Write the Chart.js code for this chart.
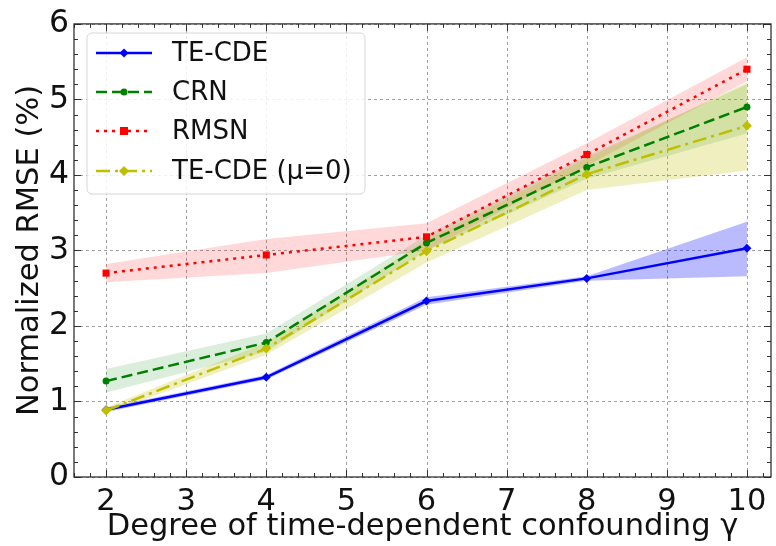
<!DOCTYPE html>
<html lang="en">
<head>
    <meta charset="UTF-8">
    <title>Normalized RMSE vs confounding</title>
    <script src="https://cdn.jsdelivr.net/npm/chart.js"></script>
    <style>
        html, body {
            margin: 0;
            padding: 0;
            background: #ffffff;
        }
        #wrap {
            width: 776px;
            height: 546px;
        }
    </style>
</head>
<body>
    <div id="wrap"><canvas id="rmseChart" width="776" height="546"></canvas></div>

    <script>
        // values
        const gammas = [2, 4, 6, 8, 10];
        const xTicks = [2, 3, 4, 5, 6, 7, 8, 9, 10];
        const yTicks = [0, 1, 2, 3, 4, 5, 6];

        const teCde = [0.89, 1.32, 2.33, 2.63, 3.03];
        const teCdeLow = [0.86, 1.29, 2.28, 2.60, 2.66];
        const teCdeHigh = [0.92, 1.35, 2.38, 2.66, 3.38];

        const crn = [1.27, 1.78, 3.10, 4.10, 4.90];
        const crnLow = [1.12, 1.66, 3.00, 3.95, 4.55];
        const crnHigh = [1.43, 1.90, 3.20, 4.25, 5.20];

        const rmsn = [2.70, 2.94, 3.18, 4.27, 5.40];
        const rmsnLow = [2.58, 2.70, 3.00, 4.12, 5.24];
        const rmsnHigh = [2.82, 3.15, 3.36, 4.42, 5.56];

        const teCdeMu0 = [0.88, 1.70, 2.99, 4.01, 4.65];
        const teCdeMu0Low = [0.84, 1.62, 2.84, 3.80, 4.06];
        const teCdeMu0High = [0.92, 1.78, 3.14, 4.22, 5.22];

        const FONT = 'DejaVu Sans';

        const series = [
            { label: 'TE-CDE', data: teCde, low: teCdeLow, high: teCdeHigh,
              color: '#0000ff', band: 'rgba(0,0,255,0.27)', dash: [], point: 'rectRot', radius: 4.5 },
            { label: 'CRN', data: crn, low: crnLow, high: crnHigh,
              color: '#008000', band: 'rgba(0,128,0,0.14)', dash: [11, 5], point: 'circle', radius: 3.5 },
            { label: 'RMSN', data: rmsn, low: rmsnLow, high: rmsnHigh,
              color: '#ff0000', band: 'rgba(255,0,0,0.15)', dash: [3, 5], point: 'rect', radius: 5 },
            { label: 'TE-CDE (\u03bc=0)', data: teCdeMu0, low: teCdeMu0Low, high: teCdeMu0High,
              color: '#bfbf00', band: 'rgba(191,191,0,0.25)', dash: [14, 5, 3, 5], point: 'rectRot', radius: 5 }
        ];

        const toXY = arr => arr.map((v, i) => ({ x: gammas[i], y: v }));

        // bands first (drawn underneath), then lines; later series end up on top
        const datasets = [];
        series.forEach((s, i) => {
            datasets.push({
                label: s.label + ' high', data: toXY(s.high), fill: '+1',
                backgroundColor: s.band, borderWidth: 0, pointRadius: 0, order: 20 - i
            });
            datasets.push({
                label: s.label + ' low', data: toXY(s.low), fill: false,
                borderWidth: 0, pointRadius: 0, order: 20 - i
            });
        });
        series.forEach((s, i) => {
            datasets.push({
                label: s.label, data: toXY(s.data), fill: false,
                borderColor: s.color, backgroundColor: s.color, borderWidth: 2.5,
                borderDash: s.dash, pointStyle: s.point, pointRadius: s.radius,
                pointBorderWidth: 0, pointBackgroundColor: s.color, order: 10 - i
            });
        });

        // grid, inward ticks, frame and a matplotlib-like legend
        const axesDecor = {
            id: 'axesDecor',
            beforeDatasetsDraw(chart) {
                const { ctx, chartArea: a, scales: { x, y } } = chart;
                ctx.save();
                ctx.strokeStyle = 'rgba(120,120,120,0.7)';
                ctx.lineWidth = 1;
                ctx.setLineDash([3, 3]);
                xTicks.forEach(v => {
                    const px = Math.round(x.getPixelForValue(v)) + 0.5;
                    ctx.beginPath(); ctx.moveTo(px, a.top); ctx.lineTo(px, a.bottom); ctx.stroke();
                });
                yTicks.forEach(v => {
                    const py = Math.round(y.getPixelForValue(v)) + 0.5;
                    ctx.beginPath(); ctx.moveTo(a.left, py); ctx.lineTo(a.right, py); ctx.stroke();
                });
                ctx.restore();
            },
            afterDraw(chart) {
                const { ctx, chartArea: a, scales: { x, y } } = chart;
                ctx.save();
                ctx.strokeStyle = '#333';
                ctx.lineWidth = 1;
                ctx.setLineDash([]);
                // minor + major ticks, pointing inward, on all four sides
                for (let k = 8; k <= 51; k++) {
                    const v = k / 5;
                    const px = Math.round(x.getPixelForValue(v)) + 0.5;
                    const len = (k % 5 === 0) ? 7 : 4;
                    ctx.beginPath();
                    ctx.moveTo(px, a.bottom); ctx.lineTo(px, a.bottom - len);
                    ctx.moveTo(px, a.top); ctx.lineTo(px, a.top + len);
                    ctx.stroke();
                }
                for (let k = 0; k <= 30; k++) {
                    const v = k / 5;
                    const py = Math.round(y.getPixelForValue(v)) + 0.5;
                    const len = (k % 5 === 0) ? 7 : 4;
                    ctx.beginPath();
                    ctx.moveTo(a.left, py); ctx.lineTo(a.left + len, py);
                    ctx.moveTo(a.right, py); ctx.lineTo(a.right - len, py);
                    ctx.stroke();
                }
                ctx.strokeStyle = '#222';
                ctx.lineWidth = 1.2;
                ctx.strokeRect(a.left, a.top, a.right - a.left, a.bottom - a.top);

                // legend box
                const bx = 87, by = 33, bw = 278, bh = 161, r = 5;
                ctx.beginPath();
                ctx.moveTo(bx + r, by);
                ctx.arcTo(bx + bw, by, bx + bw, by + bh, r);
                ctx.arcTo(bx + bw, by + bh, bx, by + bh, r);
                ctx.arcTo(bx, by + bh, bx, by, r);
                ctx.arcTo(bx, by, bx + bw, by, r);
                ctx.closePath();
                ctx.fillStyle = 'rgba(255,255,255,0.85)';
                ctx.fill();
                ctx.strokeStyle = '#d6d6d6';
                ctx.lineWidth = 1;
                ctx.stroke();

                const rows = [53, 92, 131, 171];
                series.forEach((s, i) => {
                    const ry = rows[i];
                    ctx.strokeStyle = s.color;
                    ctx.lineWidth = 2.5;
                    ctx.setLineDash(s.dash);
                    ctx.beginPath(); ctx.moveTo(96, ry); ctx.lineTo(152, ry); ctx.stroke();
                    ctx.setLineDash([]);
                    ctx.fillStyle = s.color;
                    const cx = 124, rr = s.radius;
                    ctx.beginPath();
                    if (s.point === 'circle') {
                        ctx.arc(cx, ry, rr, 0, Math.PI * 2);
                    } else if (s.point === 'rect') {
                        ctx.rect(cx - rr * 0.8, ry - rr * 0.8, rr * 1.6, rr * 1.6);
                    } else {
                        ctx.moveTo(cx, ry - rr); ctx.lineTo(cx + rr, ry);
                        ctx.lineTo(cx, ry + rr); ctx.lineTo(cx - rr, ry);
                        ctx.closePath();
                    }
                    ctx.fill();
                    ctx.fillStyle = '#111';
                    ctx.font = '26px "' + FONT + '"';
                    ctx.textBaseline = 'middle';
                    ctx.textAlign = 'left';
                    ctx.fillText(s.label, 172, ry + 1);
                });
                ctx.restore();
            }
        };

        const ctx = document.getElementById('rmseChart').getContext('2d');
        new Chart(ctx, {
            type: 'line',
            data: { datasets },
            options: {
                responsive: false,
                animation: false,
                layout: { padding: { top: 20, right: 4, left: 0, bottom: 0 } },
                plugins: {
                    legend: { display: false },
                    tooltip: { enabled: false },
                    filler: { propagate: false }
                },
                scales: {
                    x: {
                        type: 'linear',
                        min: 1.6,
                        max: 10.3,
                        afterBuildTicks: s => { s.ticks = xTicks.map(v => ({ value: v })); },
                        afterFit: s => { s.height = 69; },
                        grid: { display: false, drawTicks: false },
                        border: { display: false },
                        ticks: { color: '#111', padding: 7, maxRotation: 0, font: { family: FONT, size: 30.5 } },
                        title: {
                            display: true,
                            text: 'Degree of time-dependent confounding \u03b3',
                            color: '#111',
                            padding: { top: 0, bottom: 1 },
                            font: { family: FONT, size: 30.5 }
                        }
                    },
                    y: {
                        type: 'linear',
                        min: 0,
                        max: 6,
                        afterBuildTicks: s => { s.ticks = yTicks.map(v => ({ value: v })); },
                        afterFit: s => { s.width = 74; },
                        grid: { display: false, drawTicks: false },
                        border: { display: false },
                        ticks: { color: '#111', padding: 5, font: { family: FONT, size: 31.5 } },
                        title: {
                            display: true,
                            text: 'Normalized RMSE (%)',
                            color: '#111',
                            padding: { top: 12, bottom: 0 },
                            font: { family: FONT, size: 30.5 }
                        }
                    }
                }
            },
            plugins: [axesDecor]
        });
    </script>
</body>
</html>
